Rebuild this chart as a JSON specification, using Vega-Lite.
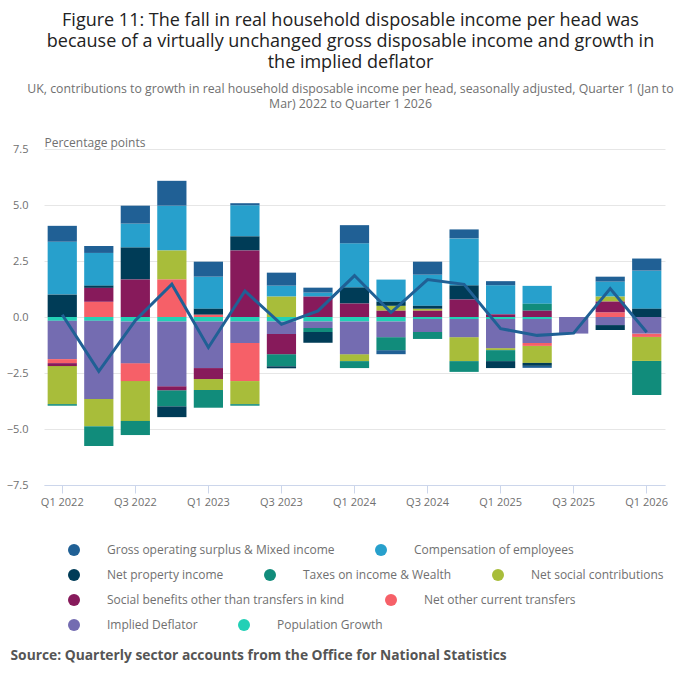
{
  "$schema": "https://vega.github.io/schema/vega-lite/v6.json",
  "width": 621,
  "height": 336,
  "autosize": {"type": "none"},
  "padding": {"left": 44, "top": 149, "right": 35, "bottom": 197},
  "title": {
    "text": ["Figure 11: The fall in real household disposable income per head was", "because of a virtually unchanged gross disposable income and growth in", "the implied deflator"],
    "subtitle": ["UK, contributions to growth in real household disposable income per head, seasonally adjusted, Quarter 1 (Jan to", "Mar) 2022 to Quarter 1 2026"],
    "anchor": "middle",
    "dx": -4,
    "fontSize": 18,
    "fontWeight": "normal",
    "color": "#222222",
    "lineHeight": 21,
    "subtitleFontSize": 12.3,
    "subtitleColor": "#707070",
    "subtitleLineHeight": 15,
    "subtitlePadding": 11,
    "offset": 26
  },
  "datasets": {
    "contributions": [
      {"quarter": "Q1 2022", "series": "Population Growth", "value": -0.17},
      {"quarter": "Q1 2022", "series": "Implied Deflator", "value": -1.71},
      {"quarter": "Q1 2022", "series": "Net other current transfers", "value": -0.18},
      {"quarter": "Q1 2022", "series": "Social benefits other than transfers in kind", "value": -0.13},
      {"quarter": "Q1 2022", "series": "Net social contributions", "value": -1.70},
      {"quarter": "Q1 2022", "series": "Taxes on income & Wealth", "value": -0.07},
      {"quarter": "Q1 2022", "series": "Net property income", "value": 1.00},
      {"quarter": "Q1 2022", "series": "Compensation of employees", "value": 2.36},
      {"quarter": "Q1 2022", "series": "Gross operating surplus & Mixed income", "value": 0.71},

      {"quarter": "Q2 2022", "series": "Population Growth", "value": -0.17},
      {"quarter": "Q2 2022", "series": "Implied Deflator", "value": -3.49},
      {"quarter": "Q2 2022", "series": "Net other current transfers", "value": 0.68},
      {"quarter": "Q2 2022", "series": "Social benefits other than transfers in kind", "value": 0.62},
      {"quarter": "Q2 2022", "series": "Net social contributions", "value": -1.22},
      {"quarter": "Q2 2022", "series": "Taxes on income & Wealth", "value": -0.88},
      {"quarter": "Q2 2022", "series": "Net property income", "value": 0.10},
      {"quarter": "Q2 2022", "series": "Compensation of employees", "value": 1.46},
      {"quarter": "Q2 2022", "series": "Gross operating surplus & Mixed income", "value": 0.31},

      {"quarter": "Q3 2022", "series": "Population Growth", "value": -0.20},
      {"quarter": "Q3 2022", "series": "Implied Deflator", "value": -1.86},
      {"quarter": "Q3 2022", "series": "Net other current transfers", "value": -0.80},
      {"quarter": "Q3 2022", "series": "Social benefits other than transfers in kind", "value": 1.67},
      {"quarter": "Q3 2022", "series": "Net social contributions", "value": -1.78},
      {"quarter": "Q3 2022", "series": "Taxes on income & Wealth", "value": -0.63},
      {"quarter": "Q3 2022", "series": "Net property income", "value": 1.43},
      {"quarter": "Q3 2022", "series": "Compensation of employees", "value": 1.07},
      {"quarter": "Q3 2022", "series": "Gross operating surplus & Mixed income", "value": 0.80},

      {"quarter": "Q4 2022", "series": "Population Growth", "value": -0.20},
      {"quarter": "Q4 2022", "series": "Implied Deflator", "value": -2.89},
      {"quarter": "Q4 2022", "series": "Net other current transfers", "value": 1.67},
      {"quarter": "Q4 2022", "series": "Social benefits other than transfers in kind", "value": -0.18},
      {"quarter": "Q4 2022", "series": "Net social contributions", "value": 1.30},
      {"quarter": "Q4 2022", "series": "Taxes on income & Wealth", "value": -0.72},
      {"quarter": "Q4 2022", "series": "Net property income", "value": -0.48},
      {"quarter": "Q4 2022", "series": "Compensation of employees", "value": 2.00},
      {"quarter": "Q4 2022", "series": "Gross operating surplus & Mixed income", "value": 1.11},

      {"quarter": "Q1 2023", "series": "Population Growth", "value": -0.20},
      {"quarter": "Q1 2023", "series": "Implied Deflator", "value": -2.08},
      {"quarter": "Q1 2023", "series": "Net other current transfers", "value": 0.10},
      {"quarter": "Q1 2023", "series": "Social benefits other than transfers in kind", "value": -0.49},
      {"quarter": "Q1 2023", "series": "Net social contributions", "value": -0.49},
      {"quarter": "Q1 2023", "series": "Taxes on income & Wealth", "value": -0.79},
      {"quarter": "Q1 2023", "series": "Net property income", "value": 0.27},
      {"quarter": "Q1 2023", "series": "Compensation of employees", "value": 1.43},
      {"quarter": "Q1 2023", "series": "Gross operating surplus & Mixed income", "value": 0.67},

      {"quarter": "Q2 2023", "series": "Population Growth", "value": -0.20},
      {"quarter": "Q2 2023", "series": "Implied Deflator", "value": -0.96},
      {"quarter": "Q2 2023", "series": "Net other current transfers", "value": -1.70},
      {"quarter": "Q2 2023", "series": "Social benefits other than transfers in kind", "value": 2.97},
      {"quarter": "Q2 2023", "series": "Net social contributions", "value": -1.03},
      {"quarter": "Q2 2023", "series": "Taxes on income & Wealth", "value": -0.07},
      {"quarter": "Q2 2023", "series": "Net property income", "value": 0.63},
      {"quarter": "Q2 2023", "series": "Compensation of employees", "value": 1.39},
      {"quarter": "Q2 2023", "series": "Gross operating surplus & Mixed income", "value": 0.09},

      {"quarter": "Q3 2023", "series": "Population Growth", "value": -0.20},
      {"quarter": "Q3 2023", "series": "Implied Deflator", "value": -0.56},
      {"quarter": "Q3 2023", "series": "Social benefits other than transfers in kind", "value": -0.90},
      {"quarter": "Q3 2023", "series": "Net social contributions", "value": 0.91},
      {"quarter": "Q3 2023", "series": "Taxes on income & Wealth", "value": -0.54},
      {"quarter": "Q3 2023", "series": "Net property income", "value": -0.09},
      {"quarter": "Q3 2023", "series": "Compensation of employees", "value": 0.49},
      {"quarter": "Q3 2023", "series": "Gross operating surplus & Mixed income", "value": 0.58},

      {"quarter": "Q4 2023", "series": "Population Growth", "value": -0.20},
      {"quarter": "Q4 2023", "series": "Implied Deflator", "value": -0.29},
      {"quarter": "Q4 2023", "series": "Social benefits other than transfers in kind", "value": 0.91},
      {"quarter": "Q4 2023", "series": "Taxes on income & Wealth", "value": -0.18},
      {"quarter": "Q4 2023", "series": "Net property income", "value": -0.48},
      {"quarter": "Q4 2023", "series": "Compensation of employees", "value": 0.18},
      {"quarter": "Q4 2023", "series": "Gross operating surplus & Mixed income", "value": 0.22},

      {"quarter": "Q1 2024", "series": "Population Growth", "value": -0.20},
      {"quarter": "Q1 2024", "series": "Implied Deflator", "value": -1.46},
      {"quarter": "Q1 2024", "series": "Social benefits other than transfers in kind", "value": 0.60},
      {"quarter": "Q1 2024", "series": "Net social contributions", "value": -0.31},
      {"quarter": "Q1 2024", "series": "Taxes on income & Wealth", "value": -0.31},
      {"quarter": "Q1 2024", "series": "Net property income", "value": 0.72},
      {"quarter": "Q1 2024", "series": "Compensation of employees", "value": 1.97},
      {"quarter": "Q1 2024", "series": "Gross operating surplus & Mixed income", "value": 0.81},

      {"quarter": "Q2 2024", "series": "Population Growth", "value": -0.20},
      {"quarter": "Q2 2024", "series": "Implied Deflator", "value": -0.70},
      {"quarter": "Q2 2024", "series": "Social benefits other than transfers in kind", "value": 0.28},
      {"quarter": "Q2 2024", "series": "Net social contributions", "value": 0.22},
      {"quarter": "Q2 2024", "series": "Taxes on income & Wealth", "value": -0.58},
      {"quarter": "Q2 2024", "series": "Net property income", "value": 0.18},
      {"quarter": "Q2 2024", "series": "Compensation of employees", "value": 0.99},
      {"quarter": "Q2 2024", "series": "Gross operating surplus & Mixed income", "value": -0.18},

      {"quarter": "Q3 2024", "series": "Population Growth", "value": -0.09},
      {"quarter": "Q3 2024", "series": "Implied Deflator", "value": -0.58},
      {"quarter": "Q3 2024", "series": "Social benefits other than transfers in kind", "value": 0.28},
      {"quarter": "Q3 2024", "series": "Net social contributions", "value": 0.09},
      {"quarter": "Q3 2024", "series": "Taxes on income & Wealth", "value": -0.31},
      {"quarter": "Q3 2024", "series": "Net property income", "value": 0.13},
      {"quarter": "Q3 2024", "series": "Compensation of employees", "value": 1.39},
      {"quarter": "Q3 2024", "series": "Gross operating surplus & Mixed income", "value": 0.58},

      {"quarter": "Q4 2024", "series": "Population Growth", "value": -0.09},
      {"quarter": "Q4 2024", "series": "Implied Deflator", "value": -0.81},
      {"quarter": "Q4 2024", "series": "Social benefits other than transfers in kind", "value": 0.78},
      {"quarter": "Q4 2024", "series": "Net social contributions", "value": -1.07},
      {"quarter": "Q4 2024", "series": "Taxes on income & Wealth", "value": -0.48},
      {"quarter": "Q4 2024", "series": "Net property income", "value": 0.63},
      {"quarter": "Q4 2024", "series": "Compensation of employees", "value": 2.10},
      {"quarter": "Q4 2024", "series": "Gross operating surplus & Mixed income", "value": 0.40},

      {"quarter": "Q1 2025", "series": "Population Growth", "value": -0.09},
      {"quarter": "Q1 2025", "series": "Implied Deflator", "value": -1.30},
      {"quarter": "Q1 2025", "series": "Social benefits other than transfers in kind", "value": 0.12},
      {"quarter": "Q1 2025", "series": "Net social contributions", "value": -0.09},
      {"quarter": "Q1 2025", "series": "Taxes on income & Wealth", "value": -0.49},
      {"quarter": "Q1 2025", "series": "Net property income", "value": -0.31},
      {"quarter": "Q1 2025", "series": "Compensation of employees", "value": 1.30},
      {"quarter": "Q1 2025", "series": "Gross operating surplus & Mixed income", "value": 0.18},

      {"quarter": "Q2 2025", "series": "Population Growth", "value": -0.09},
      {"quarter": "Q2 2025", "series": "Implied Deflator", "value": -1.07},
      {"quarter": "Q2 2025", "series": "Net other current transfers", "value": -0.13},
      {"quarter": "Q2 2025", "series": "Social benefits other than transfers in kind", "value": 0.28},
      {"quarter": "Q2 2025", "series": "Net social contributions", "value": -0.76},
      {"quarter": "Q2 2025", "series": "Taxes on income & Wealth", "value": 0.31},
      {"quarter": "Q2 2025", "series": "Net property income", "value": -0.13},
      {"quarter": "Q2 2025", "series": "Compensation of employees", "value": 0.80},
      {"quarter": "Q2 2025", "series": "Gross operating surplus & Mixed income", "value": -0.09},

      {"quarter": "Q3 2025", "series": "Implied Deflator", "value": -0.74},

      {"quarter": "Q4 2025", "series": "Implied Deflator", "value": -0.36},
      {"quarter": "Q4 2025", "series": "Net other current transfers", "value": 0.21},
      {"quarter": "Q4 2025", "series": "Social benefits other than transfers in kind", "value": 0.48},
      {"quarter": "Q4 2025", "series": "Net social contributions", "value": 0.22},
      {"quarter": "Q4 2025", "series": "Net property income", "value": -0.22},
      {"quarter": "Q4 2025", "series": "Compensation of employees", "value": 0.67},
      {"quarter": "Q4 2025", "series": "Gross operating surplus & Mixed income", "value": 0.22},

      {"quarter": "Q1 2026", "series": "Implied Deflator", "value": -0.74},
      {"quarter": "Q1 2026", "series": "Net other current transfers", "value": -0.15},
      {"quarter": "Q1 2026", "series": "Net social contributions", "value": -1.07},
      {"quarter": "Q1 2026", "series": "Taxes on income & Wealth", "value": -1.52},
      {"quarter": "Q1 2026", "series": "Net property income", "value": 0.37},
      {"quarter": "Q1 2026", "series": "Compensation of employees", "value": 1.70},
      {"quarter": "Q1 2026", "series": "Gross operating surplus & Mixed income", "value": 0.54}
    ],
    "rhdi": [
      {"quarter": "Q1 2022", "value": 0.10},
      {"quarter": "Q2 2022", "value": -2.43},
      {"quarter": "Q3 2022", "value": -0.15},
      {"quarter": "Q4 2022", "value": 1.46},
      {"quarter": "Q1 2023", "value": -1.36},
      {"quarter": "Q2 2023", "value": 1.16},
      {"quarter": "Q3 2023", "value": -0.33},
      {"quarter": "Q4 2023", "value": 0.27},
      {"quarter": "Q1 2024", "value": 1.85},
      {"quarter": "Q2 2024", "value": 0.20},
      {"quarter": "Q3 2024", "value": 1.67},
      {"quarter": "Q4 2024", "value": 1.46},
      {"quarter": "Q1 2025", "value": -0.52},
      {"quarter": "Q2 2025", "value": -0.82},
      {"quarter": "Q3 2025", "value": -0.72},
      {"quarter": "Q4 2025", "value": 1.27},
      {"quarter": "Q1 2026", "value": -0.68}
    ]
  },
  "layer": [
    {
      "data": {"name": "contributions"},
      "transform": [
        {"window": [{"op": "row_number", "as": "rank"}], "groupby": ["quarter"]},
        {"stack": "value", "groupby": ["quarter"], "sort": [{"field": "rank"}], "as": ["lo", "hi"], "offset": "zero"},
        {"filter": {"field": "series", "oneOf": ["Gross operating surplus & Mixed income", "Compensation of employees"]}}
      ],
      "mark": {"type": "bar"},
      "encoding": {
        "x": {
          "field": "quarter", "type": "nominal", "sort": null,
          "scale": {"domain": ["Q1 2022","Q2 2022","Q3 2022","Q4 2022","Q1 2023","Q2 2023","Q3 2023","Q4 2023","Q1 2024","Q2 2024","Q3 2024","Q4 2024","Q1 2025","Q2 2025","Q3 2025","Q4 2025","Q1 2026"], "paddingInner": 0.2, "paddingOuter": 0.1},
          "axis": {
            "values": ["Q1 2022","Q3 2022","Q1 2023","Q3 2023","Q1 2024","Q3 2024","Q1 2025","Q3 2025","Q1 2026"],
            "title": "Source: Quarterly sector accounts from the Office for National Statistics",
            "titleX": -34, "titleY": 170, "titleAlign": "left", "titleAnchor": "start", "titleBaseline": "middle",
            "titleFontWeight": "bold", "titleFontSize": 13.8, "titleColor": "#555555"
          }
        },
        "y": {
          "field": "lo", "type": "quantitative",
          "scale": {"domain": [-7.5, 7.5], "nice": false, "zero": false},
          "axis": {
            "values": [-7.5, -5, -2.5, 0, 2.5, 5, 7.5], "format": ".1f",
            "title": "Percentage points", "titleAngle": 0, "titleX": 0, "titleY": -3,
            "titleAlign": "left", "titleBaseline": "alphabetic", "titleFontWeight": "normal", "titleFontSize": 12
          }
        },
        "y2": {"field": "hi"},
        "color": {
          "field": "series", "type": "nominal",
          "scale": {"domain": ["Gross operating surplus & Mixed income", "Compensation of employees"], "range": ["#206095", "#27a0cc"]},
          "legend": {"title": null, "orient": "none", "legendX": 24, "legendY": 395, "direction": "horizontal"}
        }
      }
    },
    {
      "data": {"name": "contributions"},
      "transform": [
        {"window": [{"op": "row_number", "as": "rank"}], "groupby": ["quarter"]},
        {"stack": "value", "groupby": ["quarter"], "sort": [{"field": "rank"}], "as": ["lo", "hi"], "offset": "zero"},
        {"filter": {"field": "series", "oneOf": ["Net property income", "Taxes on income & Wealth", "Net social contributions"]}}
      ],
      "mark": {"type": "bar"},
      "encoding": {
        "x": {"field": "quarter", "type": "nominal", "sort": null, "scale": {"domain": ["Q1 2022","Q2 2022","Q3 2022","Q4 2022","Q1 2023","Q2 2023","Q3 2023","Q4 2023","Q1 2024","Q2 2024","Q3 2024","Q4 2024","Q1 2025","Q2 2025","Q3 2025","Q4 2025","Q1 2026"]}},
        "y": {"field": "lo", "type": "quantitative", "scale": {"domain": [-7.5, 7.5], "nice": false, "zero": false}},
        "y2": {"field": "hi"},
        "color": {
          "field": "series", "type": "nominal",
          "scale": {"domain": ["Net property income", "Taxes on income & Wealth", "Net social contributions"], "range": ["#003c57", "#118c7b", "#a8bd3a"]},
          "legend": {"title": null, "orient": "none", "legendX": 24, "legendY": 420, "direction": "horizontal"}
        }
      }
    },
    {
      "data": {"name": "contributions"},
      "transform": [
        {"window": [{"op": "row_number", "as": "rank"}], "groupby": ["quarter"]},
        {"stack": "value", "groupby": ["quarter"], "sort": [{"field": "rank"}], "as": ["lo", "hi"], "offset": "zero"},
        {"filter": {"field": "series", "oneOf": ["Social benefits other than transfers in kind", "Net other current transfers"]}}
      ],
      "mark": {"type": "bar"},
      "encoding": {
        "x": {"field": "quarter", "type": "nominal", "sort": null, "scale": {"domain": ["Q1 2022","Q2 2022","Q3 2022","Q4 2022","Q1 2023","Q2 2023","Q3 2023","Q4 2023","Q1 2024","Q2 2024","Q3 2024","Q4 2024","Q1 2025","Q2 2025","Q3 2025","Q4 2025","Q1 2026"]}},
        "y": {"field": "lo", "type": "quantitative", "scale": {"domain": [-7.5, 7.5], "nice": false, "zero": false}},
        "y2": {"field": "hi"},
        "color": {
          "field": "series", "type": "nominal",
          "scale": {"domain": ["Social benefits other than transfers in kind", "Net other current transfers"], "range": ["#871a5b", "#f66068"]},
          "legend": {"title": null, "orient": "none", "legendX": 24, "legendY": 445, "direction": "horizontal"}
        }
      }
    },
    {
      "data": {"name": "contributions"},
      "transform": [
        {"window": [{"op": "row_number", "as": "rank"}], "groupby": ["quarter"]},
        {"stack": "value", "groupby": ["quarter"], "sort": [{"field": "rank"}], "as": ["lo", "hi"], "offset": "zero"},
        {"filter": {"field": "series", "oneOf": ["Implied Deflator", "Population Growth"]}}
      ],
      "mark": {"type": "bar"},
      "encoding": {
        "x": {"field": "quarter", "type": "nominal", "sort": null, "scale": {"domain": ["Q1 2022","Q2 2022","Q3 2022","Q4 2022","Q1 2023","Q2 2023","Q3 2023","Q4 2023","Q1 2024","Q2 2024","Q3 2024","Q4 2024","Q1 2025","Q2 2025","Q3 2025","Q4 2025","Q1 2026"]}},
        "y": {"field": "lo", "type": "quantitative", "scale": {"domain": [-7.5, 7.5], "nice": false, "zero": false}},
        "y2": {"field": "hi"},
        "color": {
          "field": "series", "type": "nominal",
          "scale": {"domain": ["Implied Deflator", "Population Growth"], "range": ["#746cb1", "#22d0b6"]},
          "legend": {"title": null, "orient": "none", "legendX": 24, "legendY": 470, "direction": "horizontal"}
        }
      }
    },
    {
      "data": {"name": "rhdi"},
      "mark": {"type": "line", "color": "#206095", "strokeWidth": 3, "strokeJoin": "miter"},
      "encoding": {
        "x": {"field": "quarter", "type": "nominal", "sort": null, "scale": {"domain": ["Q1 2022","Q2 2022","Q3 2022","Q4 2022","Q1 2023","Q2 2023","Q3 2023","Q4 2023","Q1 2024","Q2 2024","Q3 2024","Q4 2024","Q1 2025","Q2 2025","Q3 2025","Q4 2025","Q1 2026"]}},
        "y": {"field": "value", "type": "quantitative", "scale": {"domain": [-7.5, 7.5], "nice": false, "zero": false}}
      }
    }
  ],
  "resolve": {"scale": {"color": "independent"}},
  "config": {
    "font": "Open Sans",
    "view": {"stroke": null},
    "axis": {"labelColor": "#707070", "titleColor": "#707070", "labelFontSize": 11, "gridColor": "#e6e6e6", "gridWidth": 1},
    "axisX": {"domainColor": "#ccd6eb", "tickColor": "#ccd6eb", "tickSize": 8, "labelPadding": 3, "grid": false, "labelAngle": 0},
    "axisY": {"domain": false, "ticks": false, "tickSize": 0, "labelPadding": 16, "grid": true},
    "legend": {"symbolType": "circle", "symbolSize": 144, "symbolStrokeWidth": 0, "symbolOpacity": 1, "labelFontSize": 12, "labelColor": "#707070", "labelOffset": 27, "columnPadding": 40, "padding": 0, "labelLimit": 400}
  }
}
